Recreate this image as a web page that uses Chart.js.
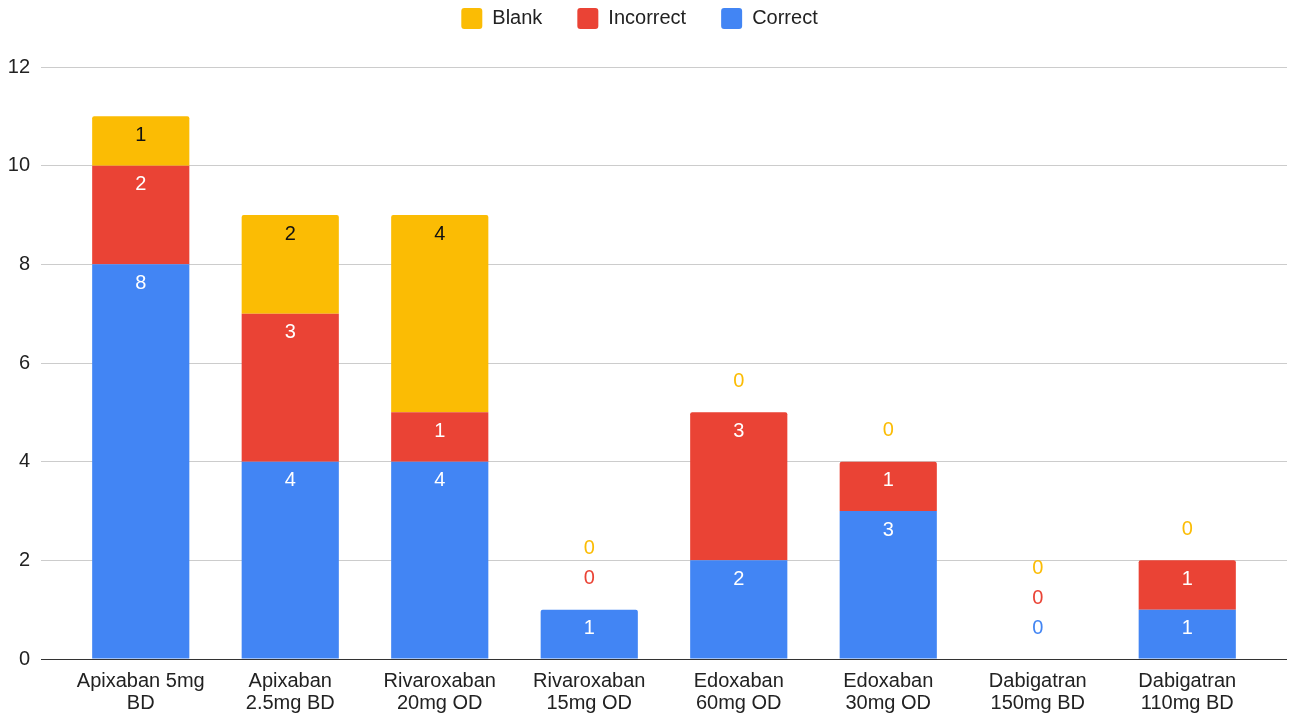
<!DOCTYPE html>
<html><head><meta charset="utf-8">
<script src="https://cdn.jsdelivr.net/npm/chart.js@4/dist/chart.umd.min.js"></script>
<style>html,body{margin:0;padding:0;background:#fff}#wrap{width:1292px;height:715px}</style>
</head><body><div id="wrap"><canvas id="c"></canvas></div>
<script>
const categories = [["Apixaban 5mg","BD"],["Apixaban","2.5mg BD"],["Rivaroxaban","20mg OD"],["Rivaroxaban","15mg OD"],["Edoxaban","60mg OD"],["Edoxaban","30mg OD"],["Dabigatran","150mg BD"],["Dabigatran","110mg BD"]];
const correct = [8,4,4,1,2,3,0,1];
const incorrect = [2,3,1,0,3,1,0,1];
const blank = [1,2,4,0,0,0,0,0];
const yTicks = [0,2,4,6,8,10,12];

const FONT = "'Liberation Sans', Arial, sans-serif";
const labelColors = ['#ffffff','#ffffff','#111111'];
const gridCol = c => (c.tick && c.tick.value === 0) ? '#333333' : '#cccccc';

const labelPlugin = {
  id:'labels',
  afterDatasetsDraw(chart){
    const ctx = chart.ctx, y = chart.scales.y;
    ctx.save();
    ctx.font = "20px " + FONT;
    ctx.textAlign='center'; ctx.textBaseline='middle';
    const n = chart.data.labels.length;
    for(let i=0;i<n;i++){
      let total=0;
      chart.data.datasets.forEach(ds=>{total+=ds.data[i];});
      const top = y.getPixelForValue(total);
      let k=0;
      chart.data.datasets.forEach((ds,di)=>{
        const el = chart.getDatasetMeta(di).data[i];
        const v = ds.data[i];
        if(v>0){
          ctx.fillStyle = labelColors[di];
          ctx.fillText(String(v), el.x, el.y + 19);
        } else {
          ctx.fillStyle = ds.backgroundColor;
          ctx.fillText('0', el.x, top - 31 - 30*k);
          k++;
        }
      });
    }
    ctx.restore();
  }
};

const legendSpacer = {
  id:'legendSpacer',
  beforeInit(chart){
    const l = chart.legend;
    if(!l) return;
    const f = l.fit;
    l.fit = function(){ f.call(this); this.height += 28; };
    const d = l.draw;
    l.draw = function(){ this.ctx.save(); this.ctx.translate(-8,0); d.call(this); this.ctx.restore(); };
  }
};

new Chart(document.getElementById('c'),{
  type:'bar',
  data:{labels:categories,datasets:[
    {label:'Correct',data:correct,backgroundColor:'#4285f4'},
    {label:'Incorrect',data:incorrect,backgroundColor:'#ea4335'},
    {label:'Blank',data:blank,backgroundColor:'#fbbc04'}
  ]},
  options:{
    responsive:true,maintainAspectRatio:false,animation:false,
    layout:{padding:{left:8,right:5,top:-27,bottom:0}},
    datasets:{bar:{barPercentage:0.65,categoryPercentage:1,borderRadius:2}},
    plugins:{
      legend:{position:'top',reverse:true,
        labels:{boxWidth:21,boxHeight:21,useBorderRadius:true,borderRadius:3,padding:35,color:'#222',font:{family:FONT,size:20}}},
      tooltip:{enabled:false}
    },
    scales:{
      x:{stacked:true,grid:{display:false,drawTicks:false},border:{display:false},
        afterFit(s){s.height=56;},
        ticks:{color:'#222',font:{family:FONT,size:20,lineHeight:1.1},padding:11,maxRotation:0,autoSkip:false}},
      y:{stacked:true,min:0,max:12,afterBuildTicks(s){s.ticks=yTicks.map(v=>({value:v}));},
        afterFit(s){s.width=58;},
        grid:{color:gridCol,tickLength:25,tickColor:gridCol},border:{display:false},
        ticks:{color:'#222',font:{family:FONT,size:20},padding:11}},
      y2:{position:'right',min:0,max:12,afterBuildTicks(s){s.ticks=yTicks.map(v=>({value:v}));},
        afterFit(s){s.width=25;},
        grid:{drawOnChartArea:false,tickLength:25,tickColor:gridCol},border:{display:false},
        ticks:{callback:()=>'',padding:0}}
    }
  },
  plugins:[labelPlugin, legendSpacer]
});
</script></body></html>
